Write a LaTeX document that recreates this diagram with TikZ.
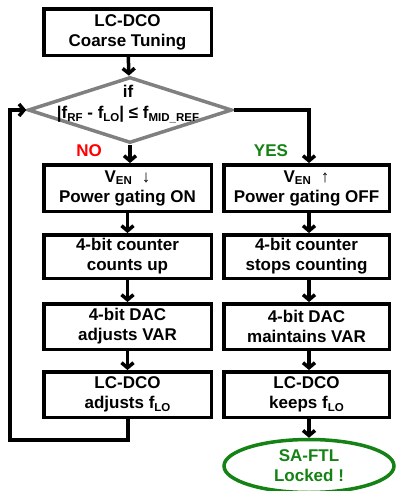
\documentclass[tikz,border=0pt]{standalone}
\usepackage{fontspec}
\setmainfont{Liberation Sans}
\usetikzlibrary{arrows.meta,shapes.geometric}
\definecolor{diagray}{RGB}{128,128,128}
\definecolor{okgreen}{RGB}{20,130,20}
\definecolor{nored}{RGB}{255,0,0}
% lowered small subscript in text font
\newcommand\lowsub[1]{\raisebox{-2.8pt}{\fontsize{11.5}{11.5}\selectfont #1}}
\newcommand\thinarrow[1]{{\mdseries #1}}

\begin{document}
\begin{tikzpicture}[x=1pt,y=-1pt,
  every node/.style={font=\fontsize{17}{20}\selectfont\bfseries},
  box/.style={draw, line width=3.5pt, align=center, inner sep=0pt},
  lbox/.style={box, minimum width=167.5pt},
  rbox/.style={box, minimum width=165.5pt},
  flow/.style={line width=3.5pt, line join=miter, -{Straight Barb[length=5pt,width=12pt]}},
]
\useasboundingbox (0,0) rectangle (396,491);

% start block
\node[lbox, minimum height=46.5pt] (start) at (127.5,32) {LC-DCO\\Coarse Tuning};

% decision
\node[diamond, draw=diagray, line width=3.5pt, minimum width=204pt,
      minimum height=66pt, inner sep=0pt] (cond) at (130,110) {};
\node[align=center, inner sep=0pt] (condtxt) at (128,104)
  {if\\[1pt]|f\lowsub{RF} - f\lowsub{LO}| ≤ f\lowsub{MID\_REF}};

% branch labels
\node[text=nored] (no) at (89,151) {NO};
\node[text=okgreen] (yes) at (271,151) {YES};

% left column (NO branch)
\node[lbox, minimum height=46.5pt] (l1) at (127.5,188)
  {V\lowsub{EN}\hspace{10pt}\thinarrow{↓}\\Power gating ON};
\node[lbox, minimum height=43.5pt] (l2) at (127.5,256.5) {4-bit counter\\counts up};
\node[lbox, minimum height=45.5pt] (l3) at (127.5,326.5) {4-bit DAC\\adjusts VAR};
\node[lbox, minimum height=45.5pt] (l4) at (127.5,394.5) {LC-DCO\\adjusts f\lowsub{LO}};

% right column (YES branch)
\node[rbox, minimum height=46.5pt] (r1) at (306.5,188)
  {V\lowsub{EN}\hspace{10pt}\thinarrow{↑}\\Power gating OFF};
\node[rbox, minimum height=43.5pt] (r2) at (306.5,256.5) {4-bit counter\\stops counting};
\node[rbox, minimum height=45.5pt] (r3) at (306.5,326.5) {4-bit DAC\\maintains VAR};
\node[rbox, minimum height=45.5pt] (r4) at (306.5,394.5) {LC-DCO\\keeps f\lowsub{LO}};

% final state
\node[ellipse, draw=okgreen, line width=3.5pt, text=okgreen, align=center,
      minimum width=170pt, minimum height=53pt, inner sep=0pt] (lock) at (309,466)
  {SA-FTL\\Locked !};

% connectors
\draw[flow] (start) -- (cond);
\draw[flow] (cond.south) -- (l1.north -| cond.south);
\coordinate (yc) at (309,0);
\draw[flow] (cond.east) -| (r1.north -| yc);
\draw[flow] (l1) -- (l2);
\draw[flow] (l2) -- (l3);
\draw[flow] (l3) -- (l4);
\draw[flow] (r1.south -| yc) -- (r2.north -| yc);
\draw[flow] (r2.south -| yc) -- (r3.north -| yc);
\draw[flow] (r3.south -| yc) -- (r4.north -| yc);
\draw[flow] (r4.south -| yc) -- (lock);

% feedback loop back to the decision
\coordinate (lb) at (128,440);
\coordinate (lc) at (10,440);
\draw[flow] (l4.south -| lb) -- (lb) -- (lc) |- (cond.west);
\end{tikzpicture}
\end{document}
